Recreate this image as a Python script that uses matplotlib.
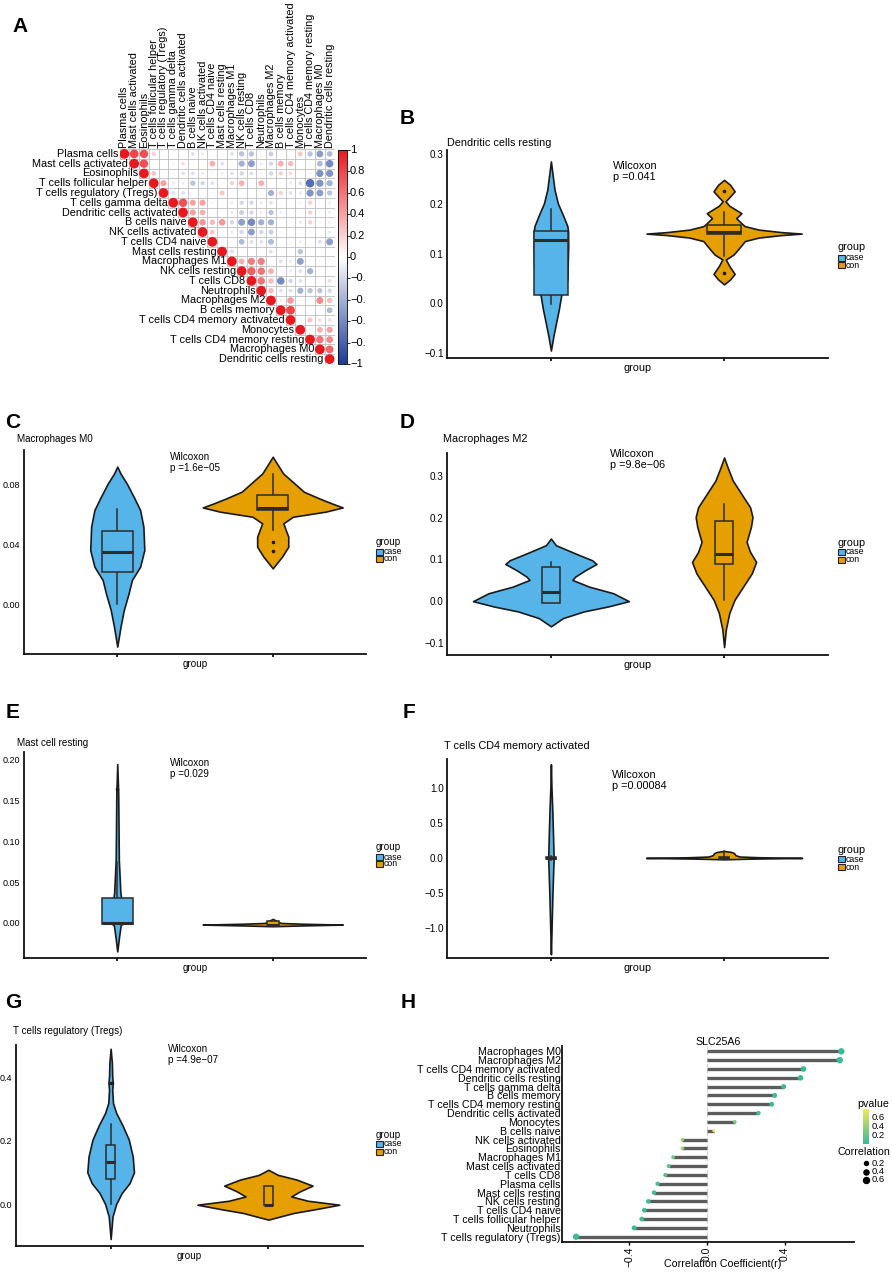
import numpy as np
import matplotlib
matplotlib.use("Agg")
import matplotlib.pyplot as plt
from matplotlib.patches import Circle, Rectangle
from matplotlib.colors import LinearSegmentedColormap, Normalize
from matplotlib.cm import ScalarMappable
from matplotlib.transforms import Bbox, TransformedBbox

plt.rcParams["font.family"] = ["Liberation Sans", "DejaVu Sans"]

W, H = 892, 1272

# ---------------- data: panel A (correlation matrix, upper triangle) ----------------
cells_a = ["Plasma cells", "Mast cells activated", "Eosinophils", "T cells follicular helper",
           "T cells regulatory (Tregs)", "T cells gamma delta", "Dendritic cells activated",
           "B cells naive", "NK cells activated", "T cells CD4 naive", "Mast cells resting",
           "Macrophages M1", "NK cells resting", "T cells CD8", "Neutrophils", "Macrophages M2",
           "B cells memory", "T cells CD4 memory activated", "Monocytes",
           "T cells CD4 memory resting", "Macrophages M0", "Dendritic cells resting"]

# values right of the diagonal, row by row
corr_upper = [
    [0.8, 0.75, 0.2, 0.05, 0.02, 0.0, -0.15, -0.1, 0.05, -0.05, -0.15, -0.3, -0.3, -0.05, -0.25, 0.05, 0.0, 0.25, -0.3, -0.5, -0.35],
    [0.75, 0.05, 0.02, -0.05, 0.15, 0.0, 0.0, 0.35, -0.15, 0.05, -0.4, -0.5, -0.1, -0.2, 0.35, 0.3, 0.0, -0.05, -0.35, -0.6],
    [0.25, 0.05, 0.05, -0.15, -0.15, -0.1, 0.05, -0.1, -0.15, -0.2, -0.15, 0.05, -0.2, 0.2, 0.15, 0.0, -0.05, -0.55, -0.55],
    [0.4, -0.1, -0.1, -0.3, -0.2, -0.15, 0.05, 0.2, 0.35, 0.05, 0.35, 0.0, -0.05, -0.1, -0.15, -0.75, -0.55, -0.4],
    [-0.15, -0.15, 0.0, 0.0, 0.05, 0.25, 0.0, 0.0, 0.0, 0.0, -0.4, 0.2, -0.15, -0.1, -0.55, -0.5, -0.3],
    [0.75, 0.4, 0.4, -0.05, 0.0, -0.1, -0.2, -0.2, -0.1, -0.15, 0.0, 0.0, 0.05, 0.2, 0.05, 0.1],
    [0.4, 0.35, 0.05, 0.0, -0.1, -0.25, -0.2, -0.1, -0.3, -0.1, 0.0, 0.05, 0.2, 0.05, 0.1],
    [0.45, 0.3, 0.45, -0.2, -0.5, -0.6, -0.4, -0.4, 0.0, -0.05, -0.1, 0.2, 0.05, 0.1],
    [0.25, 0.0, -0.1, -0.2, -0.5, -0.2, -0.25, 0.05, 0.0, 0.0, -0.05, 0.0, -0.1],
    [0.05, 0.0, -0.35, -0.15, -0.15, -0.35, 0.0, -0.05, -0.1, 0.0, -0.15, -0.5],
    [-0.15, 0.0, 0.0, 0.0, -0.15, 0.0, 0.0, -0.3, 0.0, 0.0, 0.0],
    [0.35, 0.55, 0.55, 0.0, -0.15, -0.1, -0.5, 0.05, -0.05, -0.05],
    [0.7, 0.6, 0.35, -0.05, -0.1, -0.15, -0.4, 0.0, 0.0],
    [0.6, 0.3, -0.6, -0.2, -0.15, 0.0, 0.0, 0.15],
    [0.3, -0.15, -0.15, -0.4, -0.3, -0.3, -0.2],
    [0.1, 0.45, 0.05, 0.0, 0.5, 0.3],
    [0.8, 0.0, 0.05, 0.0, -0.35],
    [0.05, 0.25, 0.15, 0.15],
    [0.05, 0.35, 0.4],
    [0.6, 0.5],
    [0.65],
    [],
]
cbar_ticks_a = [1, 0.8, 0.6, 0.4, 0.2, 0, -0.2, -0.4, -0.6, -0.8, -1]

# ---------------- data: violin panels (profile = value, half width) ----------------
groups = ["case", "con"]
group_colors = ["#56B4E9", "#E69F00"]

# B  Dendritic cells resting
b_case_y = [0.285, 0.255, 0.228, 0.201, 0.175, 0.155, 0.145, 0.115, 0.048, 0.015, -0.012, -0.039, -0.065, -0.095]
b_case_w = [0, 0.011, 0.021, 0.04, 0.072, 0.095, 0.099, 0.1, 0.095, 0.059, 0.046, 0.03, 0.015, 0]
b_con_y = [0.248, 0.238, 0.225, 0.213, 0.205, 0.196, 0.181, 0.171, 0.158, 0.155, 0.148, 0.143, 0.140,
           0.137, 0.132, 0.125, 0.108, 0.098, 0.088, 0.075, 0.059, 0.048, 0.038]
b_con_w = [0, 0.035, 0.061, 0.03, 0.008, 0.03, 0.1, 0.07, 0.109, 0.12, 0.2, 0.33, 0.448,
           0.33, 0.2, 0.12, 0.08, 0.055, 0.01, 0.03, 0.061, 0.035, 0]
b_case_box = [-0.002, 0.016, 0.128, 0.145, 0.19]
b_con_box = [0.095, 0.139, 0.143, 0.158, 0.183]
b_case_out = []
b_con_out = [0.225, 0.06]

# C  Macrophages M0
c_case_y = [0.0916, 0.087, 0.080, 0.0716, 0.0627, 0.0516, 0.036, 0.0249, 0.016, 0.0071, -0.004, -0.0151, -0.0284]
c_case_w = [0, 0.021, 0.063, 0.105, 0.147, 0.168, 0.174, 0.147, 0.094, 0.073, 0.042, 0.021, 0]
c_con_y = [0.0982, 0.094, 0.0871, 0.0804, 0.0749, 0.0704, 0.0671, 0.0644, 0.0616, 0.0582,
           0.0538, 0.0449, 0.0382, 0.0316, 0.0271, 0.0238]
c_con_w = [0, 0.025, 0.067, 0.14, 0.2, 0.3, 0.38, 0.45, 0.34, 0.13, 0.068, 0.1, 0.1, 0.06, 0.025, 0]
c_case_box = [0.0, 0.0213, 0.0347, 0.049, 0.0633]
c_con_box = [0.0493, 0.063, 0.0638, 0.073, 0.0864]
c_case_out = []
c_con_out = [0.0416, 0.0356]

# D  Macrophages M2
d_case_y = [0.15, 0.134, 0.114, 0.098, 0.089, 0.0746, 0.0587, 0.0508, 0.0349, 0.019, 0.0,
            -0.0127, -0.0246, -0.0405, -0.0603]
d_case_w = [0, 0.029, 0.143, 0.238, 0.263, 0.2, 0.14, 0.124, 0.22, 0.36, 0.45, 0.33, 0.19, 0.07, 0]
d_con_y = [0.344, 0.321, 0.289, 0.257, 0.225, 0.2016, 0.178, 0.142, 0.118, 0.094, 0.0667,
           0.0349, 0.003, -0.0286, -0.068, -0.11]
d_con_w = [0, 0.02, 0.05, 0.1, 0.15, 0.164, 0.155, 0.13, 0.15, 0.185, 0.16, 0.11, 0.06, 0.03, 0.01, 0]
d_case_box = [-0.005, -0.005, 0.021, 0.081, 0.094]
d_con_box = [0.003, 0.089, 0.114, 0.192, 0.232]
d_case_out = []
d_con_out = []

# E  Mast cell resting
e_case_y = [0.195, 0.159, 0.118, 0.078, 0.037, 0.012, 0.002, 0.0, -0.002, -0.004, -0.0163, -0.035]
e_case_w = [0, 0.006, 0.008, 0.01, 0.02, 0.04, 0.09, 0.05, 0.025, 0.021, 0.012, 0]
e_con_y = [0.005, 0.004, 0.002, 0.0, -0.001, -0.002, -0.003, -0.004]
e_con_w = [0, 0.01, 0.03, 0.05, 0.2, 0.45, 0.2, 0]
e_case_box = [-0.001, -0.001, -0.0005, 0.031, 0.075]
e_con_box = [-0.002, -0.002, -0.002, 0.002, 0.003]
e_case_out = [0.164]
e_con_out = []

# F  T cells CD4 memory activated
f_case_y = [1.338, 1.014, 0.681, 0.348, 0.062, 0.0, -0.129, -0.51, -0.986, -1.376]
f_case_w = [0, 0.003, 0.008, 0.012, 0.015, 0.016, 0.014, 0.009, 0.004, 0]
f_con_y = [0.1, 0.086, 0.07, 0.04, 0.02, 0.01, 0.0, -0.01, -0.02]
f_con_w = [0, 0.04, 0.057, 0.065, 0.09, 0.2, 0.45, 0.15, 0]
f_case_box = [-0.03, -0.02, 0.0, 0.02, 0.03]
f_con_box = [-0.02, -0.02, 0.0, 0.02, 0.1]
f_case_out = []
f_con_out = []

# G  T cells regulatory (Tregs)
g_case_y = [0.489, 0.444, 0.402, 0.381, 0.36, 0.318, 0.287, 0.248, 0.203, 0.15, 0.1, 0.066,
            0.0346, 0.0, -0.039, -0.11]
g_case_w = [0, 0.008, 0.01, 0.014, 0.01, 0.015, 0.035, 0.075, 0.115, 0.14, 0.148, 0.12, 0.07, 0.035, 0.012, 0]
g_con_y = [0.108, 0.092, 0.077, 0.058, 0.040, 0.024, 0.0105, -0.002, -0.016, -0.028, -0.049]
g_con_w = [0, 0.06, 0.18, 0.28, 0.2, 0.145, 0.25, 0.45, 0.3, 0.16, 0]
g_case_box = [0.0, 0.079, 0.131, 0.187, 0.253]
g_con_box = [-0.004, -0.004, -0.002, 0.058, 0.058]
g_case_out = [0.38]
g_con_out = []

# ---------------- data: panel H (lollipop) ----------------
h_cells = ["Macrophages M0", "Macrophages M2", "T cells CD4 memory activated", "Dendritic cells resting",
           "T cells gamma delta", "B cells memory", "T cells CD4 memory resting", "Dendritic cells activated",
           "Monocytes", "B cells naive", "NK cells activated", "Eosinophils", "Macrophages M1",
           "Mast cells activated", "T cells CD8", "Plasma cells", "Mast cells resting", "NK cells resting",
           "T cells CD4 naive", "T cells follicular helper", "Neutrophils", "T cells regulatory (Tregs)"]
h_r = np.array([0.689, 0.681, 0.495, 0.48, 0.393, 0.347, 0.332, 0.264, 0.143, 0.034, -0.126, -0.126,
                -0.174, -0.197, -0.214, -0.254, -0.272, -0.301, -0.322, -0.335, -0.374, -0.672])
h_p = np.array([0.0, 0.0, 0.001, 0.002, 0.01, 0.02, 0.02, 0.05, 0.3, 0.78, 0.38, 0.38,
                0.22, 0.17, 0.13, 0.07, 0.05, 0.03, 0.02, 0.02, 0.01, 0.0])
h_size_keys = [0.2, 0.4, 0.6]
h_p_ticks = [0.2, 0.4, 0.6]

# ---------------- helpers ----------------
fig = plt.figure(figsize=(W / 100, H / 100), dpi=100)


def fx(x):
    return x / W


def fy(y):
    return 1 - y / H


def px_axes(x0, y0, x1, y1):
    return fig.add_axes([fx(x0), fy(y1), (x1 - x0) / W, (y1 - y0) / H])


def letter(txt, x, y):
    fig.text(fx(x), fy(y), txt, fontsize=15, fontweight="bold", ha="center", va="center")


def size_of(r):
    # marker area from |r|
    return 0.52 * (6 + 50 * np.abs(r))


# ---------------- panel A ----------------
letter("A", 20, 27)
cmap_a = LinearSegmentedColormap.from_list("corr", ["#1C3D96", "#FFFFFF", "#E8191E"])
norm_a = Normalize(-1, 1)
n = len(cells_a)
ax_a = px_axes(119.5, 149, 334.5, 364)
ax_a.set_xlim(-0.5, n - 0.5)
ax_a.set_ylim(n - 0.5, -0.5)
ax_a.axis("off")
# grid of the upper triangle
for k in range(n + 1):
    ax_a.plot([max(k - 1, 0) - 0.5, n - 0.5], [k - 0.5, k - 0.5], color="#BDBDBD", lw=0.6, zorder=1)
    ax_a.plot([k - 0.5, k - 0.5], [-0.5, min(k, n - 1) + 0.5], color="#BDBDBD", lw=0.6, zorder=1)
for i in range(n):
    vals = [1.0] + corr_upper[i]
    for k, r in enumerate(vals):
        j = i + k
        ax_a.add_patch(Circle((j, i), 0.5 * np.sqrt(abs(r)), facecolor=cmap_a(norm_a(r)),
                              edgecolor="none", zorder=2))
    ax_a.text(i - 0.6, i, cells_a[i], ha="right", va="center", fontsize=7.8, clip_on=False)
    ax_a.text(i, -0.6, cells_a[i], ha="center", va="bottom", rotation=90, fontsize=7.8, clip_on=False)

cax_a = px_axes(338, 150, 347, 364)
cb = fig.colorbar(ScalarMappable(norm=norm_a, cmap=cmap_a), cax=cax_a)
cb.outline.set_linewidth(0.6)
cb.set_ticks(cbar_ticks_a)
cax_a.tick_params(length=2, width=0.6, labelright=False, right=True)
clip = TransformedBbox(Bbox([[0, 0], [366 / W, 1]]), fig.transFigure)
for t in cbar_ticks_a:
    lab = "0" if t == 0 else ("1" if t == 1 else ("−1" if t == -1 else f"{t:.1f}".replace("-", "−")))
    ty = 150 + (1 - t) / 2 * 214
    tt = fig.text(fx(350), fy(ty), lab, fontsize=8, ha="left", va="center")
    tt.set_clip_box(clip)
    tt.set_clip_on(True)


# ---------------- violin panels ----------------
def draw_violin(ax, x, ys, ws, color, box, box_w, outliers):
    ys = np.asarray(ys)
    ws = np.asarray(ws)
    ax.fill_betweenx(ys, x - ws, x + ws, facecolor=color, edgecolor="#1a1a1a", lw=1.2, zorder=2)
    lo, q1, med, q3, hi = box
    ax.plot([x, x], [lo, q1], color="#2b2b2b", lw=1.1, zorder=3)
    ax.plot([x, x], [q3, hi], color="#2b2b2b", lw=1.1, zorder=3)
    ax.add_patch(Rectangle((x - box_w / 2, q1), box_w, q3 - q1, facecolor=color,
                           edgecolor="#2b2b2b", lw=1.1, zorder=3))
    ax.plot([x - box_w / 2, x + box_w / 2], [med, med], color="#2b2b2b", lw=2.2, zorder=4,
            solid_capstyle="butt")
    if outliers:
        ax.plot([x] * len(outliers), outliers, "o", ms=1.6, color="#1a1a1a", zorder=5)


panels = [
    dict(letter=("B", 407, 118), box=(447, 150, 828, 358), title="Dendritic cells resting",
         title_xy=(447, 143), ylim=(-0.110, 0.308), yticks=[-0.1, 0, 0.1, 0.2, 0.3], fmt="{:.1f}",
         p="0.041", wil=(613, 166), leg=(838, 247, 258, 265), bw=(0.2, 0.2), fs=1.1,
         case=(b_case_y, b_case_w, b_case_box, b_case_out), con=(b_con_y, b_con_w, b_con_box, b_con_out)),
    dict(letter=("C", 13, 422), box=(24, 450, 366, 654), title="Macrophages M0",
         title_xy=(17, 439), ylim=(-0.0333, 0.1027), yticks=[0, 0.04, 0.08], fmt="{:.2f}",
         p="1.6e−05", wil=(170, 457), leg=(376, 542, 552, 559), bw=(0.2, 0.2), fs=1.0,
         case=(c_case_y, c_case_w, c_case_box, c_case_out), con=(c_con_y, c_con_w, c_con_box, c_con_out)),
    dict(letter=("D", 407, 422), box=(447, 453, 828, 655), title="Macrophages M2",
         title_xy=(443, 439), ylim=(-0.129, 0.355), yticks=[-0.1, 0, 0.1, 0.2, 0.3], fmt="{:.1f}",
         p="9.8e−06", wil=(610, 454), leg=(838, 543, 552, 560), bw=(0.1, 0.1), fs=1.1,
         case=(d_case_y, d_case_w, d_case_box, d_case_out), con=(d_con_y, d_con_w, d_con_box, d_con_out)),
    dict(letter=("E", 13, 713), box=(24, 752, 366, 958), title="Mast cell resting",
         title_xy=(17, 743), ylim=(-0.043, 0.2098), yticks=[0, 0.05, 0.10, 0.15, 0.20], fmt="{:.2f}",
         p="0.029", wil=(170, 763), leg=(376, 847, 857, 864), bw=(0.2, 0.08), fs=1.0,
         case=(e_case_y, e_case_w, e_case_box, e_case_out), con=(e_con_y, e_con_w, e_con_box, e_con_out)),
    dict(letter=("F", 409, 713), box=(447, 759, 828, 958), title="T cells CD4 memory activated",
         title_xy=(444, 746), ylim=(-1.43, 1.414), yticks=[-1.0, -0.5, 0, 0.5, 1.0], fmt="{:.1f}",
         p="0.00084", wil=(612, 775), leg=(838, 850, 859, 867), bw=(0.06, 0.055), fs=1.1,
         case=(f_case_y, f_case_w, f_case_box, f_case_out), con=(f_con_y, f_con_w, f_con_box, f_con_out)),
    dict(letter=("G", 13, 1002), box=(16, 1045, 363, 1246), title="T cells regulatory (Tregs)",
         title_xy=(13, 1031), ylim=(-0.132, 0.5008), yticks=[0, 0.2, 0.4], fmt="{:.1f}",
         p="4.9e−07", wil=(168, 1049), leg=(376, 1135, 1144, 1152), bw=(0.055, 0.055), fs=1.0,
         case=(g_case_y, g_case_w, g_case_box, g_case_out), con=(g_con_y, g_con_w, g_con_box, g_con_out)),
]

for pnl in panels:
    letter(*pnl["letter"])
    s = pnl["fs"]
    x0, y0, x1, y1 = pnl["box"]
    ax = px_axes(x0, y0, x1, y1)
    for gi, key in enumerate(["case", "con"]):
        ys, ws, bx, out = pnl[key]
        draw_violin(ax, gi + 1, ys, ws, group_colors[gi], bx, pnl["bw"][gi], out)
    ax.set_xlim(0.4, 2.6)
    ax.set_ylim(*pnl["ylim"])
    for side in ["top", "right"]:
        ax.spines[side].set_visible(False)
    for side in ["left", "bottom"]:
        ax.spines[side].set_linewidth(1.3)
        ax.spines[side].set_color("#111111")
    ax.set_xticks([1, 2])
    ax.set_xticklabels([])
    ax.tick_params(axis="x", length=2, width=1.3, color="#111111")
    ax.set_yticks(pnl["yticks"])
    ax.set_yticklabels([pnl["fmt"].format(v).replace("-", "−") for v in pnl["yticks"]], fontsize=6.5 * s)
    ax.tick_params(axis="y", length=0, pad=2.5)
    tx, ty = pnl["title_xy"]
    fig.text(fx(tx), fy(ty), pnl["title"], fontsize=7.1 * s, ha="left", va="center")
    wx, wy = pnl["wil"]
    fig.text(fx(wx), fy(wy), "Wilcoxon", fontsize=7.1 * s, ha="left", va="center")
    fig.text(fx(wx), fy(wy + 11), "p =" + pnl["p"], fontsize=7.1 * s, ha="left", va="center")
    fig.text(fx((x0 + x1) / 2), fy(y1 + 10), "group", fontsize=7.1 * s, ha="center", va="center")
    lx, gy, cy1, cy2 = pnl["leg"]
    fig.text(fx(lx), fy(gy), "group", fontsize=7.1 * s, ha="left", va="center")
    for gi, cy in enumerate([cy1, cy2]):
        fig.add_artist(Rectangle((fx(lx), fy(cy + 3.2)), 6.5 / W, 6.4 / H, transform=fig.transFigure,
                                 facecolor=group_colors[gi], edgecolor="#222222", lw=0.8))
        fig.text(fx(lx + 7.5), fy(cy), groups[gi], fontsize=6.3, ha="left", va="center")

# ---------------- panel H ----------------
letter("H", 408, 1002)
cmap_p = LinearSegmentedColormap.from_list("pv", ["#38BA97", "#F2E85C"])
norm_p = Normalize(0, 0.78)
ax_h = px_axes(562, 1046, 854, 1242)
ypos = np.arange(len(h_cells), 0, -1)
ax_h.axvline(0, color="#D5D5D5", lw=0.9, ls=(0, (3, 2)), zorder=0)
ax_h.hlines(ypos, 0, h_r, color="#5C5C5C", lw=2.4, zorder=1)
ax_h.scatter(h_r, ypos, s=size_of(h_r), c=h_p, cmap=cmap_p, norm=norm_p, edgecolors="none", zorder=2)
ax_h.set_ylim(0.4, len(h_cells) + 0.6)
ax_h.set_xlim(-0.744, 0.754)
ax_h.set_yticks(ypos)
ax_h.set_yticklabels(h_cells, fontsize=7.7)
ax_h.set_xticks([-0.4, 0.0, 0.4])
ax_h.set_xticklabels(["−0.4", "0.0", "0.4"], rotation=90, fontsize=7.5)
for side in ["top", "right"]:
    ax_h.spines[side].set_visible(False)
for side in ["left", "bottom"]:
    ax_h.spines[side].set_linewidth(1.3)
    ax_h.spines[side].set_color("#111111")
ax_h.tick_params(axis="y", length=0, pad=1)
ax_h.tick_params(axis="x", length=2, width=1.0, pad=1)
fig.text(fx(718), fy(1042), "SLC25A6", fontsize=7.7, ha="center", va="center")
fig.text(fx(723), fy(1264), "Correlation Coefficient(r)", fontsize=7.7, ha="center", va="center")

# pvalue colour legend
fig.text(fx(857), fy(1104), "pvalue", fontsize=7.7, ha="left", va="center")
cax_h = px_axes(863, 1109, 869, 1144)
cbh = fig.colorbar(ScalarMappable(norm=norm_p, cmap=cmap_p), cax=cax_h)
cbh.outline.set_visible(False)
cbh.set_ticks(h_p_ticks)
cax_h.tick_params(length=2, width=0.6, colors="white", labelright=False)
for t in h_p_ticks:
    fig.text(fx(872), fy(1144 - t / 0.78 * 35), f"{t:.1f}", fontsize=6.8, ha="left", va="center")

# size legend
fig.text(fx(838), fy(1152), "Correlation", fontsize=7.7, ha="left", va="center")
leg_y = [1163, 1172, 1180]
for v, ly in zip(h_size_keys, leg_y):
    fig.add_artist(plt.Line2D([fx(866)], [fy(ly)], marker="o", ls="none", color="black",
                              markersize=np.sqrt(size_of(v)), transform=fig.transFigure))
    fig.text(fx(872), fy(ly), f"{v:.1f}", fontsize=6.8, ha="left", va="center")

fig.savefig("out.png", dpi=100)
